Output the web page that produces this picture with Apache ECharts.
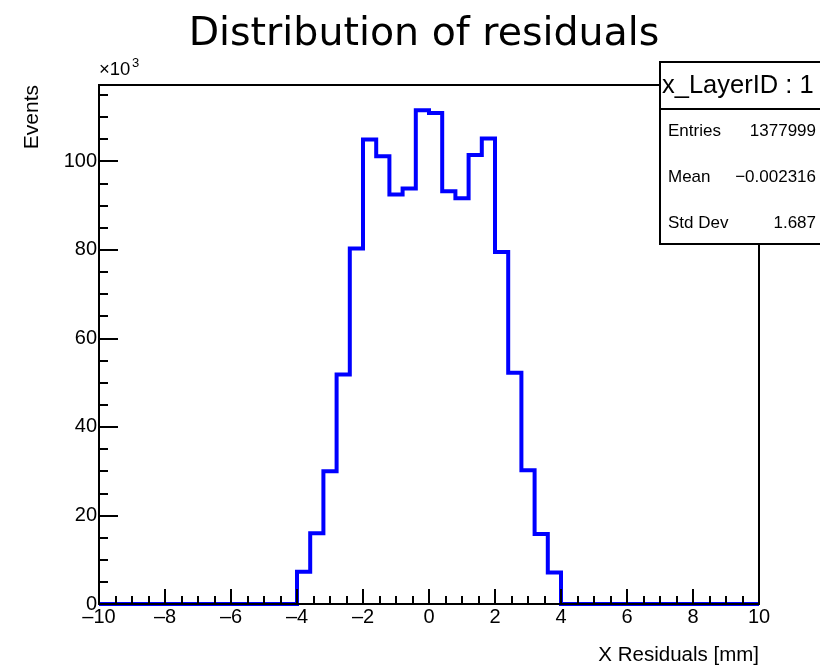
<!DOCTYPE html>
<html>
<head>
<meta charset="utf-8">
<script src="https://cdn.jsdelivr.net/npm/echarts@6/dist/echarts.min.js"></script>
<style>
html,body{margin:0;padding:0;background:#fff;}
#chart{width:820px;height:665px;}
</style>
</head>
<body>
<div id="chart"></div>
<script>
// Histogram binning
const binLow = -10;
const binWidth = 0.4;
// Bin contents (events), 50 bins from -10 to 10
const counts = [
  0, 0, 0, 0, 0, 0, 0, 0, 0, 0, 0, 0, 0, 0, 0,
  7300, 16000, 30000, 51800, 80300, 104900, 101100, 92500, 93800, 111500,
  110900, 93200, 91600, 101400, 105100, 79500, 52200, 30200, 15800, 7100,
  0, 0, 0, 0, 0, 0, 0, 0, 0, 0, 0, 0, 0, 0, 0
];
const titleText = 'Distribution of residuals';
const xTitle = 'X Residuals [mm]';
const yTitle = 'Events';
const statsName = 'x_LayerID : 1';
const statsLabels = ['Entries', 'Mean', 'Std Dev'];
const statsValues = ['1377999', '\u22120.002316', '1.687'];
const yMax = 117200;

// step points at bin edges
const stepData = counts.map((c, i) => [binLow + i * binWidth, c]);
stepData.push([binLow + counts.length * binWidth, counts[counts.length - 1]]);

const FONT = '"Liberation Sans", Arial, Helvetica, sans-serif';
const chart = echarts.init(document.getElementById('chart'));
const dash = v => String(v).replace('-', '\u2013');

const option = {
  animation: false,
  backgroundColor: '#fff',
  textStyle: { fontFamily: FONT },
  grid: {
    left: 99, right: 61, top: 85, bottom: 61,
    show: true, borderColor: '#000', borderWidth: 2, backgroundColor: 'transparent'
  },
  xAxis: {
    type: 'value', min: -10, max: 10, interval: 2, z: 5,
    axisLine: { show: true, onZero: false, lineStyle: { color: '#000', width: 2 } },
    axisTick: { show: true, inside: true, length: 15, lineStyle: { color: '#000', width: 2 } },
    minorTick: { show: true, splitNumber: 4, length: 8, lineStyle: { color: '#000', width: 2 } },
    splitLine: { show: false },
    axisLabel: { fontFamily: FONT, fontSize: 20, color: '#000', margin: 3, formatter: dash }
  },
  yAxis: [{
    type: 'value', min: 0, max: yMax, interval: 20000, z: 5, position: 'left',
    axisLine: { show: true, onZero: false, lineStyle: { color: '#000', width: 2 } },
    axisTick: { show: true, inside: true, length: 19, lineStyle: { color: '#000', width: 2 } },
    splitLine: { show: false },
    axisLabel: {
      fontFamily: FONT, fontSize: 20, color: '#000', margin: 2,
      showMaxLabel: false,
      formatter: v => (v > yMax - 1 ? '' : String(v / 1000))
    }
  }, {
    type: 'value', min: 0, max: yMax, interval: 5000, position: 'left', z: 5,
    axisLine: { show: false, onZero: false },
    axisTick: { show: true, inside: true, length: 9, lineStyle: { color: '#000', width: 2 } },
    splitLine: { show: false },
    axisLabel: { show: false }
  }],
  series: [{
    type: 'line',
    data: stepData,
    step: 'end',
    showSymbol: false,
    clip: false,
    lineStyle: { color: '#0000ff', width: 4, join: 'miter' },
    z: 3
  }],
  graphic: [
    {
      type: 'text', x: 424, y: 35,
      style: { text: titleText, fontFamily: '"DejaVu Sans", sans-serif', fontSize: 39.5, fill: '#000', align: 'center', verticalAlign: 'middle' }
    },
    {
      type: 'text', x: 99, y: 70,
      style: { text: '\u00d710', fontFamily: FONT, fontSize: 18.5, fill: '#000', verticalAlign: 'middle' }
    },
    {
      type: 'text', x: 132, y: 63,
      style: { text: '3', fontFamily: FONT, fontSize: 13, fill: '#000', verticalAlign: 'middle' }
    },
    {
      type: 'text', x: 22, y: 85, rotation: Math.PI / 2,
      style: { text: yTitle, fontFamily: FONT, fontSize: 21, fill: '#000', align: 'right', verticalAlign: 'top' }
    },
    {
      type: 'text', x: 759, y: 655,
      style: { text: xTitle, fontFamily: FONT, fontSize: 20.5, fill: '#000', align: 'right', verticalAlign: 'middle' }
    },
    {
      type: 'group', z: 100,
      children: [
        { type: 'rect', shape: { x: 660, y: 62, width: 175, height: 182 },
          style: { fill: '#fff', stroke: '#000', lineWidth: 2 } },
        { type: 'line', shape: { x1: 660, y1: 109, x2: 835, y2: 109 },
          style: { stroke: '#000', lineWidth: 2 } },
        { type: 'text', x: 662, y: 86,
          style: { text: statsName, fontFamily: FONT, fontSize: 25.5, fill: '#000', verticalAlign: 'middle' } }
      ].concat(statsLabels.map((s, i) => ({
        type: 'text', x: 668, y: 131 + i * 46,
        style: { text: s, fontFamily: FONT, fontSize: 17, fill: '#000', verticalAlign: 'middle' }
      }))).concat(statsValues.map((s, i) => ({
        type: 'text', x: 816, y: 131 + i * 46,
        style: { text: s, fontFamily: FONT, fontSize: 17, fill: '#000', align: 'right', verticalAlign: 'middle' }
      })))
    }
  ]
};
chart.setOption(option);
</script>
</body>
</html>
